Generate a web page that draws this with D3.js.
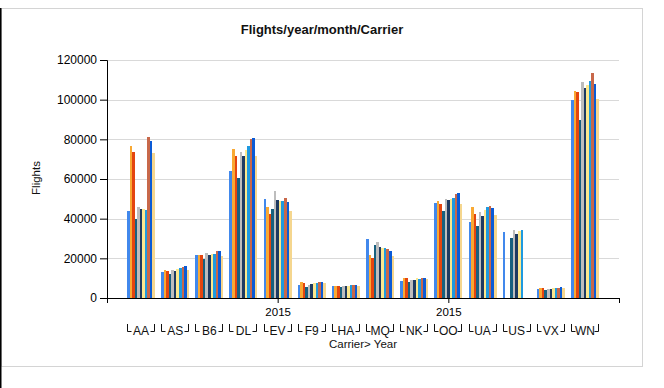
<!DOCTYPE html>
<html>
<head>
<meta charset="utf-8">
<script src="https://cdn.jsdelivr.net/npm/d3@7"></script>
<style>
  html, body { margin: 0; padding: 0; background: #fff; }
  svg { display: block; font-family: "Liberation Sans", Arial, sans-serif; }
</style>
</head>
<body>
<svg id="chart" width="664" height="388"></svg>
<script>
// ---- data ----
const carriers = ["AA","AS","B6","DL","EV","F9","HA","MQ","NK","OO","UA","US","VX","WN"];
const months = ["1","2","3","4","5","6","7","8","9","10","11"];
const yTicks = [0, 20000, 40000, 60000, 80000, 100000, 120000];
const yearTickLabels = ["", "2015", "2015", ""];

const flightsAA = [43800, 76700, 73700, 39700, 45700, 44700, 44900, 44200, 81200, 79200, 73200];
const flightsAS = [13200, 14200, 13700, 12200, 14200, 13700, 14700, 15200, 15700, 16200, 14200];
const flightsB6 = [21700, 21700, 21700, 19700, 22700, 21700, 22200, 22200, 23700, 23700, 21200];
const flightsDL = [64200, 75200, 71700, 60700, 73700, 71700, 74700, 76700, 80200, 80700, 71700];
const flightsEV = [49700, 45700, 42200, 44700, 53700, 49200, 48700, 48700, 50200, 48200, 43700];
const flightsF9 = [6700, 8200, 7700, 5700, 6700, 7200, 7700, 7700, 8200, 8200, 7700];
const flightsHA = [6200, 6200, 6200, 5700, 6000, 6200, 6200, 6700, 6700, 6700, 6200];
const flightsMQ = [29700, 21700, 20200, 26700, 28200, 25700, 25200, 25200, 24700, 23700, 21200];
const flightsNK = [8700, 10200, 10200, 8200, 9200, 9200, 10200, 9700, 10200, 10200, 9700];
const flightsOO = [47700, 48700, 47200, 43700, 49700, 49200, 49700, 50200, 52200, 52700, 47200];
const flightsUA = [38200, 45700, 42200, 36200, 43200, 41200, 44200, 45700, 46200, 45200, 41700];
const flightsUS = [33200, null, null, 30200, 34200, 32200, 33700, 34200, null, null, null];
const flightsVX = [4700, 5200, 5200, 4200, 4700, 4700, 5200, 5200, 5200, 5700, 5200];
const flightsWN = [99700, 104200, 103700, 89700, 108700, 105700, 107200, 109200, 113200, 107700, 100200];

const monthColors = ["#4188ec", "#f9a933", "#e4450f", "#17607f", "#bdbdbd", "#1e3a61",
                     "#fce88d", "#1e9ae0", "#c8684a", "#0b5bd6", "#f5d68e"];

const table = {
  AA: flightsAA, AS: flightsAS, B6: flightsB6, DL: flightsDL, EV: flightsEV,
  F9: flightsF9, HA: flightsHA, MQ: flightsMQ, NK: flightsNK, OO: flightsOO,
  UA: flightsUA, US: flightsUS, VX: flightsVX, WN: flightsWN
};

// ---- layout ----
const svg = d3.select("#chart");
const pLeft = 107, pRight = 619, pTop = 60, pBottom = 298;
const font = "\"Liberation Sans\", Arial, sans-serif";

// frame
svg.append("rect").attr("x", 1.5).attr("y", 8.5).attr("width", 641).attr("height", 358)
  .attr("fill", "none").attr("stroke", "#d4d4d4").attr("stroke-width", 1);
svg.append("line").attr("x1", 0.75).attr("x2", 0.75).attr("y1", 8).attr("y2", 388)
  .attr("stroke", "#000").attr("stroke-width", 1.5);

const x = d3.scaleBand().domain(carriers).range([pLeft, pRight])
  .paddingInner(0.18).paddingOuter(0.586);
const xm = d3.scaleBand().domain(months).range([0, x.bandwidth()]).padding(0);
const y = d3.scaleLinear().domain([0, 120000]).range([pBottom, pTop]);

// gridlines
svg.append("g").selectAll("line").data(yTicks.filter(d => d > 0)).join("line")
  .attr("x1", pLeft).attr("x2", pRight)
  .attr("y1", d => Math.round(y(d)) + 0.5).attr("y2", d => Math.round(y(d)) + 0.5)
  .attr("stroke", "#d9d9d9").attr("stroke-width", 1);

// bars
const rows = [];
carriers.forEach(c => table[c].forEach((v, i) => {
  if (v != null) rows.push({ c, m: months[i], i, v });
}));
svg.append("g").attr("shape-rendering", "crispEdges").selectAll("rect").data(rows).join("rect")
  .attr("x", d => x(d.c) + xm(d.m))
  .attr("width", xm.bandwidth())
  .attr("y", d => y(d.v))
  .attr("height", d => y(0) - y(d.v))
  .attr("fill", d => monthColors[d.i]);

// y axis
const yAxis = svg.append("g").attr("transform", `translate(${pLeft},0)`)
  .call(d3.axisLeft(y).tickValues(yTicks).tickFormat(d3.format("d")).tickSizeOuter(0).tickSize(7).tickPadding(3));
yAxis.selectAll("text").attr("font-size", 12).attr("font-family", font).attr("fill", "#000");
yAxis.selectAll("line, path").attr("stroke", "#000");

// x axis (year level)
const xLin = d3.scaleLinear().domain([0, 3]).range([pLeft, pRight]);
const xAxis = svg.append("g").attr("transform", `translate(0,${pBottom})`)
  .call(d3.axisBottom(xLin).tickValues([0, 1, 2, 3]).tickFormat(d => yearTickLabels[d])
    .tickSize(5).tickSizeOuter(0).tickPadding(5));
xAxis.select(".domain").attr("d", `M${pLeft},0.5H${pRight}`);
xAxis.selectAll("text").attr("font-size", 11.5).attr("font-family", font).attr("fill", "#000");
xAxis.selectAll("line, path").attr("stroke", "#000");

// carrier labels with brackets
const lab = svg.append("g");
lab.selectAll("path").data(carriers).join("path")
  .attr("d", c => {
    const x0 = Math.round(x(c)) + 0.5, x1 = Math.round(x(c) + x.bandwidth()) - 0.5;
    return `M${x0},324V331.5H${x0 + 4}M${x1 - 4},331.5H${x1}V324`;
  })
  .attr("fill", "none").attr("stroke", "#111").attr("stroke-width", 1);
lab.selectAll("text").data(carriers).join("text")
  .attr("x", c => x(c) + x.bandwidth() / 2).attr("y", 335)
  .attr("text-anchor", "middle").attr("font-size", 12).attr("font-family", font)
  .attr("fill", "#111").text(c => c);

// axis titles
svg.append("text").attr("x", (pLeft + pRight) / 2).attr("y", 348).attr("text-anchor", "middle")
  .attr("font-size", 11.5).attr("font-family", font).attr("fill", "#111").text("Carrier> Year");
svg.append("text").attr("transform", "translate(40,178) rotate(-90)").attr("text-anchor", "middle")
  .attr("font-size", 11.5).attr("font-family", font).attr("fill", "#111").text("Flights");

// title
svg.append("text").attr("x", 322).attr("y", 34).attr("text-anchor", "middle")
  .attr("font-size", 13).attr("font-weight", "bold").attr("font-family", font)
  .attr("fill", "#111").text("Flights/year/month/Carrier");
</script>
</body>
</html>
